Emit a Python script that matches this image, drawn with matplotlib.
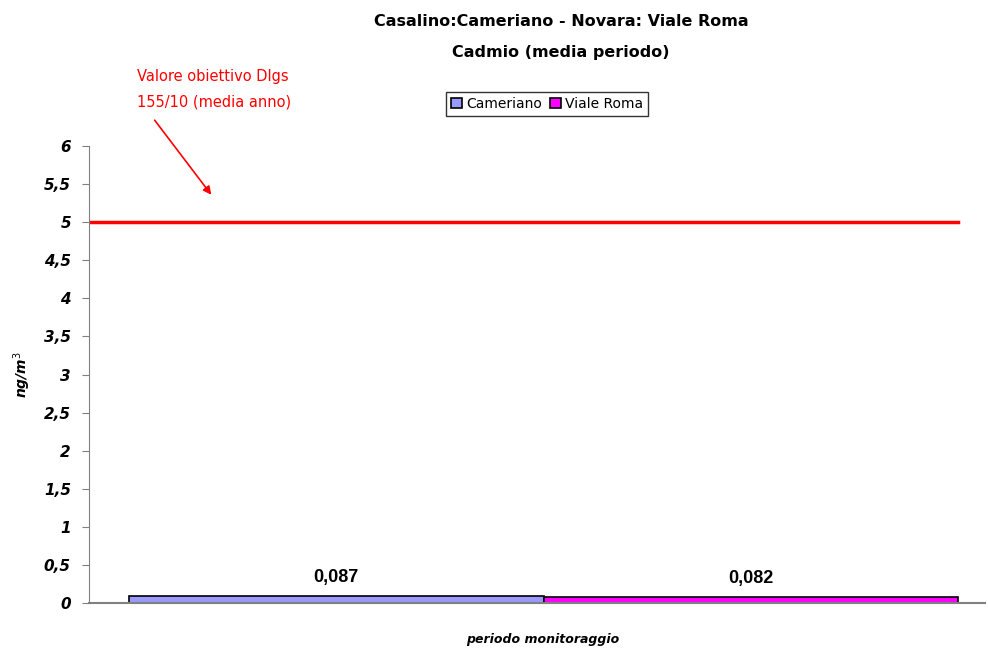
import matplotlib.pyplot as plt

stations = ['Cameriano', 'Viale Roma']
values = [0.087, 0.082]
value_labels = ['0,087', '0,082']
colors = ['#9999ff', '#ff00ff']
target_value = 5
yticks = [0, 0.5, 1, 1.5, 2, 2.5, 3, 3.5, 4, 4.5, 5, 5.5, 6]
ytick_labels = ['0', '0,5', '1', '1,5', '2', '2,5', '3', '3,5', '4', '4,5', '5', '5,5', '6']

fig = plt.figure(figsize=(9.88, 6.48), dpi=100)
ax = fig.add_axes([89 / 988, 1 - 603 / 648, (985 - 89) / 988, (603 - 146) / 648])

x0 = -0.5 - 40 / 414
x1 = 1.5 + 27 / 414
for i, (name, v, c) in enumerate(zip(stations, values, colors)):
    ax.bar(i, v, width=1.0, color=c, edgecolor='black', linewidth=1.2, label=name)
    ax.text(i, v + 0.245, value_labels[i], ha='center', va='center',
            fontsize=13, fontweight='bold', family='Liberation Sans')

ax.plot([x0, 1.5], [target_value, target_value], color='#ff0000', linewidth=2.5)

ax.set_xlim(x0, x1)
ax.set_ylim(0, 6)
ax.set_yticks(yticks)
ax.set_yticklabels(ytick_labels, fontsize=11, fontweight='bold', style='italic')
ax.set_xticks([])
ax.tick_params(axis='y', direction='out', length=5, color='#808080', pad=8)
for s in ['top', 'right']:
    ax.spines[s].set_visible(False)
ax.spines['left'].set_color('#808080')
ax.spines['bottom'].set_color('#808080')
ax.spines['bottom'].set_linewidth(1.5)

ax.set_ylabel('ng/m$^3$', fontsize=10, fontweight='bold', style='italic', labelpad=8)
fig.text(543 / 988, 1 - 640 / 648, 'periodo monitoraggio', ha='center', va='center',
         fontsize=9, fontweight='bold', style='italic')

fig.text(561 / 988, 1 - 22 / 648, 'Casalino:Cameriano - Novara: Viale Roma', ha='center',
         va='center', fontsize=11.5, fontweight='bold')
fig.text(561 / 988, 1 - 53 / 648, 'Cadmio (media periodo)', ha='center',
         va='center', fontsize=11.5, fontweight='bold')

leg = ax.legend(loc='center', bbox_to_anchor=(547 / 988, 1 - 104 / 648),
                bbox_transform=fig.transFigure, ncol=2, fontsize=10, frameon=True,
                fancybox=False, edgecolor='black', handlelength=0.8, handleheight=0.8,
                handletextpad=0.3, columnspacing=0.6, borderpad=0.35)
leg.get_frame().set_linewidth(1.0)

fig.text(137 / 988, 1 - 76 / 648, 'Valore obiettivo Dlgs', color='#ff0000',
         fontsize=10.5, va='center')
fig.text(137 / 988, 1 - 102 / 648, '155/10 (media anno)', color='#ff0000',
         fontsize=10.5, va='center')
ax.annotate('', xy=(213 / 988, 1 - 197 / 648), xytext=(153 / 988, 1 - 118 / 648),
            xycoords='figure fraction', textcoords='figure fraction',
            arrowprops=dict(arrowstyle='-|>', color='#ff0000', lw=1.2, mutation_scale=12))

fig.savefig('out.png', dpi=100, facecolor='white')
